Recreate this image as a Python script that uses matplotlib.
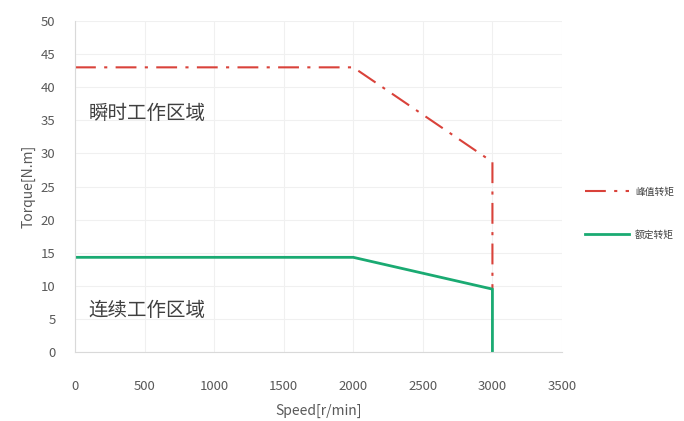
import matplotlib
matplotlib.use("Agg")
import matplotlib.pyplot as plt

plt.rcParams['font.family'] = ['Noto Sans CJK SC', 'DejaVu Sans']

# peak torque curve (dash-dot red)
peak_speed = [0, 2000, 3000, 3000]
peak_torque = [43, 43, 28.7, 9.5]

# rated torque curve (solid green)
rated_speed = [0, 2000, 3000, 3000]
rated_torque = [14.3, 14.3, 9.5, 0]

x_ticks = [0, 500, 1000, 1500, 2000, 2500, 3000, 3500]
y_ticks = [0, 5, 10, 15, 20, 25, 30, 35, 40, 45, 50]

fig = plt.figure(figsize=(6.84, 4.21), dpi=100)
ax = fig.add_axes([75 / 684, 1 - 352 / 421, 487 / 684, 331 / 421])

ax.plot(peak_speed, peak_torque, color='#d9423a', lw=1.5,
        linestyle=(0, (10, 4, 1.5, 4)), label='峰值转矩')
ax.plot(rated_speed, rated_torque, color='#1aaa72', lw=2, label='额定转矩')

ax.set_xlim(0, 3500)
ax.set_ylim(0, 50)
ax.set_xticks(x_ticks)
ax.set_yticks(y_ticks)
ax.grid(True, color='#f0f0f0', lw=0.8)
ax.set_axisbelow(True)

for s in ['top', 'right']:
    ax.spines[s].set_visible(False)
for s in ['left', 'bottom']:
    ax.spines[s].set_color('#d9d9d9')
    ax.spines[s].set_linewidth(0.8)

ax.tick_params(length=0, colors='#595959', labelsize=9.5)
ax.tick_params(axis='x', pad=20)
ax.tick_params(axis='y', pad=14)

ax.set_xlabel('Speed[r/min]', color='#595959', fontsize=10, labelpad=8)
ax.set_ylabel('Torque[N.m]', color='#595959', fontsize=10, labelpad=4)

ax.text(100, 36, '瞬时工作区域', fontsize=14, color='#404040', va='center')
ax.text(100, 6.3, '连续工作区域', fontsize=14, color='#404040', va='center')

ax.legend(loc='center left', bbox_to_anchor=(1.03, 0.42), frameon=False,
          fontsize=7, labelspacing=3.4, handlelength=4.5, handletextpad=0.6,
          labelcolor='#404040')

fig.savefig('out.png', dpi=100)
